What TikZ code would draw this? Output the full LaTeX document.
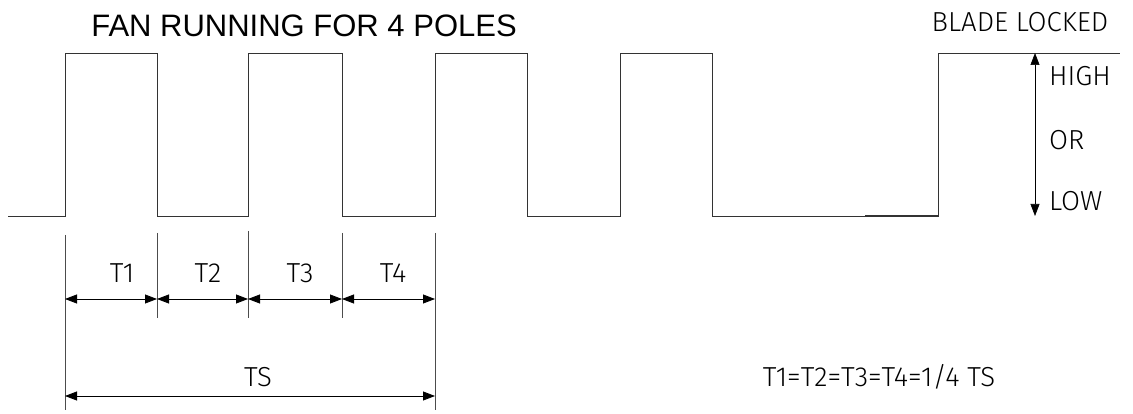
\documentclass[tikz,border=0pt]{standalone}
\usepackage{fontspec}
\setmainfont{Liberation Sans}
\newfontfamily\isofont{Fira Sans Light}
\usetikzlibrary{arrows.meta}
\begin{document}
\begin{tikzpicture}[x=1pt,y=-1pt,
  wave/.style={line width=0.9pt,black!80},
  ext/.style={line width=0.7pt,black!70},
  dim/.style={line width=0.8pt,{Triangle[length=12pt,width=9pt]}-{Triangle[length=12pt,width=9pt]}},
  iso/.style={font=\isofont\fontsize{27.5}{27.5}\selectfont,inner sep=0pt},
  title/.style={font=\fontsize{31}{31}\selectfont,inner sep=0pt}]
\useasboundingbox (0,0) rectangle (1133,414);
% waveform
\draw[wave] (8,216) -- (65,216) -- (65,53) -- (157,53) -- (157,216) -- (248,216) -- (248,53) -- (342,53) -- (342,216)
  -- (435,216) -- (435,53) -- (527,53) -- (527,216) -- (620,216) -- (620,53) -- (712,53) -- (712,216) -- (938,216)
  -- (938,53) -- (1120,53);
\draw[line width=1.3pt,black!80] (865,216) -- (938,216);
% titles
\node[title] (ttl) at (304,26) {FAN RUNNING FOR 4 POLES};
\node[iso] (bl) at (1020,22) {BLADE LOCKED};
% high/low arrow
\coordinate (hi) at (1035,53);
\coordinate (lo) at (1035,216);
\draw[dim,line width=0.6pt] (hi) -- (lo);
\node[iso,anchor=west] (high) at (1049,76) {HIGH};
\node[iso,anchor=west] (or) at (1049,140) {OR};
\node[iso,anchor=west] (low) at (1049,201) {LOW};
% extension lines
\coordinate (e0t) at (65,235); \coordinate (e0b) at (65,410);
\coordinate (e1t) at (157,233); \coordinate (e1b) at (157,318);
\coordinate (e2t) at (248,231); \coordinate (e2b) at (248,318);
\coordinate (e3t) at (342,233); \coordinate (e3b) at (342,318);
\coordinate (e4t) at (435,233); \coordinate (e4b) at (435,410);
\foreach \i in {0,...,4} \draw[ext] (e\i t) -- (e\i b);
% dimension arrows
\coordinate (d0) at (65,299); \coordinate (d1) at (157,299); \coordinate (d2) at (248,299);
\coordinate (d3) at (342,299); \coordinate (d4) at (435,299);
\draw[dim] (d0) -- (d1);
\draw[dim] (d1) -- (d2);
\draw[dim] (d2) -- (d3);
\draw[dim] (d3) -- (d4);
\coordinate (s0) at (65,396); \coordinate (s1) at (435,396);
\draw[dim] (s0) -- (s1);
\node[iso] (t1) at (122,273) {T1};
\node[iso] (t2) at (208,273) {T2};
\node[iso] (t3) at (300,273) {T3};
\node[iso] (t4) at (393,273) {T4};
\node[iso] (ts) at (258,377) {TS};
\node[iso] (eq) at (879,377) {T1=T2=T3=T4=1/4 TS};
\end{tikzpicture}
\end{document}
